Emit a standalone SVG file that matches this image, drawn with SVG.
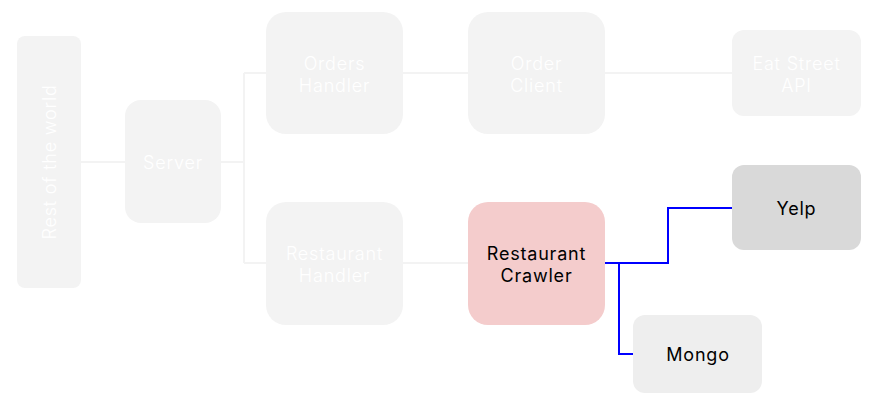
<svg xmlns="http://www.w3.org/2000/svg" width="885" height="415" viewBox="0 0 885 415">
<style>
.n{fill:#f3f3f3}
.t{font-family:Inter,"Open Sans","Liberation Sans",sans-serif;font-size:18px;letter-spacing:0.8px;text-anchor:middle;dominant-baseline:central}
.w{fill:#ffffff;font-weight:300}
.k{fill:#000000;font-weight:400}
.c{fill:none;stroke:#f3f3f3;stroke-width:2}
.b{fill:none;stroke:#0000ff;stroke-width:2}
</style>
<rect width="885" height="415" fill="#ffffff"/>
<g id="connectors">
<path class="c" d="M81,162H125"/>
<path class="c" d="M221,162H244M244,73V263M244,73H266M244,263H266"/>
<path class="c" d="M403,73H468"/>
<path class="c" d="M605,73H732"/>
<path class="c" d="M403,263H468"/>
<path class="b" d="M605,263H668V208H732"/>
<path class="b" d="M619,263V354H633"/>
</g>
<g id="rest">
<rect class="n" x="17" y="36" width="64" height="252" rx="8"/>
<text class="t w" transform="translate(49,162) rotate(-90)" x="0" y="0">Rest of the world</text>
</g>
<g id="server">
<rect class="n" x="125" y="100" width="96" height="123" rx="16"/>
<text class="t w" x="173" y="162">Server</text>
</g>
<g id="orders-handler">
<rect class="n" x="266" y="12" width="137" height="122" rx="20"/>
<text class="t w" x="334.5" y="63">Orders</text>
<text class="t w" x="334.5" y="85">Handler</text>
</g>
<g id="order-client">
<rect class="n" x="468" y="12" width="137" height="122" rx="20"/>
<text class="t w" x="536.5" y="63">Order</text>
<text class="t w" x="536.5" y="85">Client</text>
</g>
<g id="eat-street">
<rect class="n" x="732" y="30" width="129" height="86" rx="12"/>
<text class="t w" x="796.5" y="63">Eat Street</text>
<text class="t w" x="796.5" y="85">API</text>
</g>
<g id="restaurant-handler">
<rect class="n" x="266" y="202" width="137" height="123" rx="20"/>
<text class="t w" x="334.5" y="253">Restaurant</text>
<text class="t w" x="334.5" y="275">Handler</text>
</g>
<g id="restaurant-crawler">
<rect x="468" y="202" width="137" height="123" rx="20" fill="#f4cccc"/>
<text class="t k" x="536.5" y="253">Restaurant</text>
<text class="t k" x="536.5" y="275">Crawler</text>
</g>
<g id="yelp">
<rect x="732" y="165" width="129" height="85" rx="12" fill="#d9d9d9"/>
<text class="t k" x="796.5" y="208">Yelp</text>
</g>
<g id="mongo">
<rect x="633" y="315" width="129" height="78" rx="12" fill="#eeeeee"/>
<text class="t k" x="698" y="354">Mongo</text>
</g>
</svg>
